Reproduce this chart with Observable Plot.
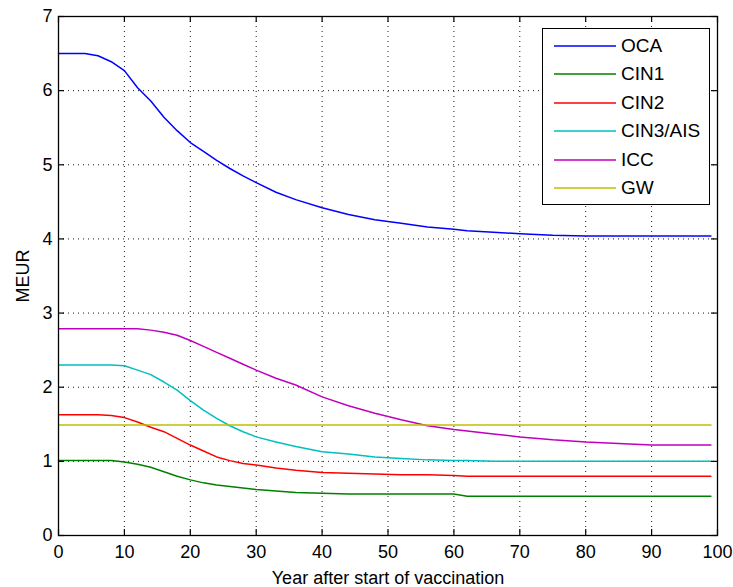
<!DOCTYPE html>
<html><head><meta charset="utf-8">
<script src="https://cdn.jsdelivr.net/npm/d3@7"></script>
<script src="https://cdn.jsdelivr.net/npm/@observablehq/plot@0.6"></script>
<style>
html,body{margin:0;padding:0;background:#fff;}
#chart{position:relative;width:733px;height:587px;font-family:"Liberation Sans",Arial,sans-serif;}
#legend{position:absolute;left:542px;top:28px;width:168px;height:177px;border:1.3px solid #000;background:#fff;box-sizing:border-box;}
.item{position:absolute;left:0;height:22px;display:flex;align-items:center;font-size:19px;color:#000;white-space:nowrap;}
.item svg{margin-left:11px;margin-right:5px;}
</style></head><body><div id="chart"></div>
<script>
// Data
const years = [0, 4, 6, 8, 10, 12, 14, 16, 18, 20, 22, 24, 26, 28, 30, 33, 36, 40, 44, 48, 52, 56, 60, 62, 66, 70, 75, 80, 85, 90, 95, 99];
const oca  = [6.50, 6.50, 6.47, 6.39, 6.27, 6.04, 5.86, 5.64, 5.46, 5.30, 5.18, 5.06, 4.95, 4.85, 4.76, 4.63, 4.53, 4.42, 4.33, 4.26, 4.21, 4.16, 4.13, 4.11, 4.09, 4.07, 4.05, 4.04, 4.04, 4.04, 4.04, 4.04];
const cin1 = [1.01, 1.01, 1.01, 1.01, 0.99, 0.96, 0.92, 0.86, 0.80, 0.75, 0.71, 0.68, 0.66, 0.64, 0.62, 0.60, 0.58, 0.57, 0.56, 0.56, 0.56, 0.56, 0.56, 0.53, 0.53, 0.53, 0.53, 0.53, 0.53, 0.53, 0.53, 0.53];
const cin2 = [1.63, 1.63, 1.63, 1.62, 1.59, 1.53, 1.46, 1.40, 1.31, 1.22, 1.14, 1.06, 1.01, 0.97, 0.95, 0.91, 0.88, 0.85, 0.84, 0.83, 0.82, 0.82, 0.81, 0.80, 0.80, 0.80, 0.80, 0.80, 0.80, 0.80, 0.80, 0.80];
const cin3 = [2.30, 2.30, 2.30, 2.30, 2.29, 2.23, 2.17, 2.07, 1.96, 1.82, 1.69, 1.58, 1.48, 1.40, 1.33, 1.26, 1.20, 1.13, 1.10, 1.06, 1.04, 1.02, 1.01, 1.01, 1.00, 1.00, 1.00, 1.00, 1.00, 1.00, 1.00, 1.00];
const icc  = [2.79, 2.79, 2.79, 2.79, 2.79, 2.79, 2.77, 2.74, 2.70, 2.63, 2.55, 2.47, 2.39, 2.31, 2.23, 2.12, 2.03, 1.87, 1.75, 1.65, 1.56, 1.48, 1.43, 1.41, 1.37, 1.33, 1.29, 1.26, 1.24, 1.22, 1.22, 1.22];
const gw   = [1.49, 1.49, 1.49, 1.49, 1.49, 1.49, 1.49, 1.49, 1.49, 1.49, 1.49, 1.49, 1.49, 1.49, 1.49, 1.49, 1.49, 1.49, 1.49, 1.49, 1.49, 1.49, 1.49, 1.49, 1.49, 1.49, 1.49, 1.49, 1.49, 1.49, 1.49, 1.49];
const seriesNames = ["OCA", "CIN1", "CIN2", "CIN3/AIS", "ICC", "GW"];
const seriesValues = [oca, cin1, cin2, cin3, icc, gw];
const seriesColors = ["#0000ff", "#008000", "#ff0000", "#00bfbf", "#bf00bf", "#bfbf00"];
const xTicks = [0, 10, 20, 30, 40, 50, 60, 70, 80, 90, 100];
const yTicks = [0, 1, 2, 3, 4, 5, 6, 7];
const xLabel = "Year after start of vaccination";
const yLabel = "MEUR";

const rows = seriesNames.flatMap((name, s) => years.map((yr, i) => ({year: yr, value: seriesValues[s][i], series: name})));

const W = 733, H = 587, mL = 58, mR = 16, mT = 16, mB = 52;
const iw = W - mL - mR, ih = H - mT - mB;
const grid = {stroke: "#000", strokeOpacity: 0.9, strokeDasharray: "1,4", strokeWidth: 1};

const plot = Plot.plot({
  width: W, height: H, marginLeft: mL, marginRight: mR, marginTop: mT, marginBottom: mB,
  style: {fontFamily: "Liberation Sans, Arial, sans-serif", fontSize: "18px", background: "#fff", color: "#000"},
  x: {domain: [0, 100]},
  y: {domain: [0, 7]},
  color: {domain: seriesNames, range: seriesColors},
  marks: [
    Plot.gridX(xTicks, grid),
    Plot.gridY(yTicks, grid),
    Plot.line(rows, {x: "year", y: "value", stroke: "series", z: "series", strokeWidth: 1.5}),
    Plot.tickX(xTicks, {x: d => d, insetTop: ih - 6, stroke: "#000", strokeWidth: 1.2}),
    Plot.tickX(xTicks, {x: d => d, insetBottom: ih - 6, stroke: "#000", strokeWidth: 1.2}),
    Plot.tickY(yTicks, {y: d => d, insetRight: iw - 6, stroke: "#000", strokeWidth: 1.2}),
    Plot.tickY(yTicks, {y: d => d, insetLeft: iw - 6, stroke: "#000", strokeWidth: 1.2}),
    Plot.axisX(xTicks, {tickSize: 0, tickPadding: 10, tickFormat: d => String(d), label: xLabel, labelAnchor: "center", labelArrow: "none", labelOffset: 48}),
    Plot.axisY(yTicks, {tickSize: 0, tickPadding: 6, tickFormat: d => String(d), label: yLabel, labelAnchor: "center", labelArrow: "none", labelOffset: 42}),
    Plot.frame({stroke: "#000", strokeWidth: 1.3})
  ]
});
const chart = document.getElementById("chart");
chart.appendChild(plot);

// Legend drawn from the series arrays
const legend = document.createElement("div");
legend.id = "legend";
seriesNames.forEach((name, i) => {
  const item = document.createElement("div");
  item.className = "item";
  item.style.top = (17 + i * 28.45 - 11) + "px";
  item.innerHTML = `<svg width="62" height="22"><line x1="0" x2="62" y1="11" y2="11" stroke="${seriesColors[i]}" stroke-width="1.5"/></svg><span>${name}</span>`;
  legend.appendChild(item);
});
chart.appendChild(legend);
</script>
</body></html>
